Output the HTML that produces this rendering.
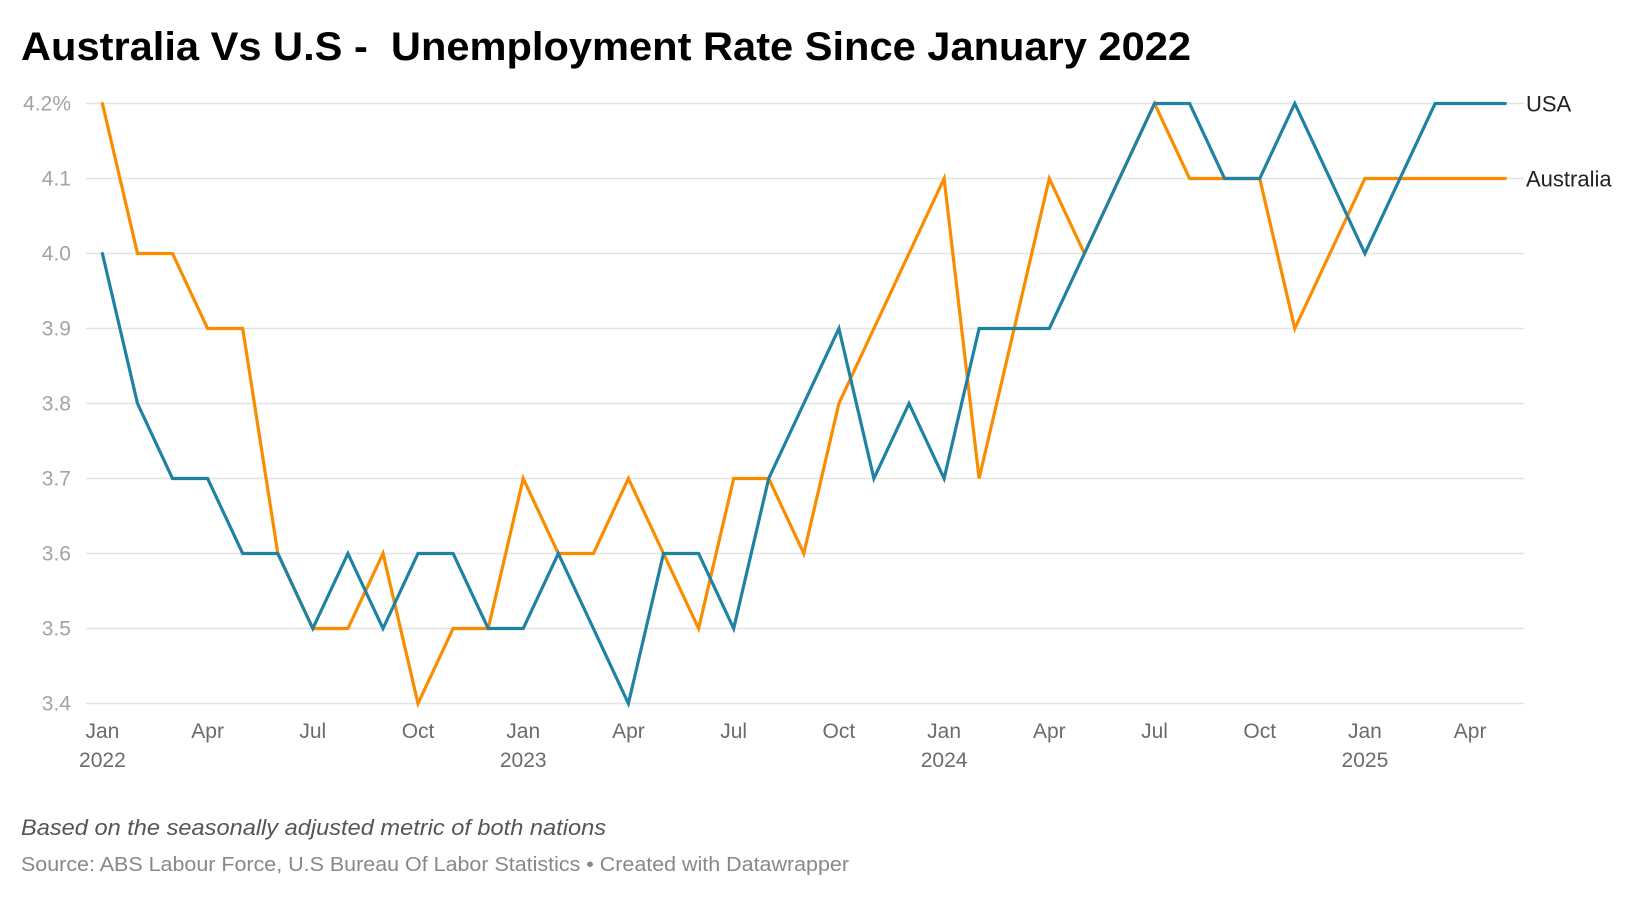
<!DOCTYPE html>
<html><head><meta charset="utf-8"><style>
html,body{margin:0;padding:0;background:#fff;}
svg{display:block;font-family:"Liberation Sans",sans-serif;}
</style></head><body>
<svg id="chart" width="1640" height="898" viewBox="0 0 1640 898" xmlns="http://www.w3.org/2000/svg">
<text x="21" y="60" font-size="40" font-weight="bold" fill="#000" textLength="1170" lengthAdjust="spacingAndGlyphs">Australia Vs U.S - &#160;Unemployment Rate Since January 2022</text>
<g id="grid"></g>
<g id="yaxis"></g>
<g id="xaxis"></g>
<g id="lines"></g>
<text x="21" y="835" font-size="22" font-style="italic" fill="#555" textLength="585" lengthAdjust="spacingAndGlyphs">Based on the seasonally adjusted metric of both nations</text>
<text x="21" y="871" font-size="20" fill="#888" textLength="828" lengthAdjust="spacingAndGlyphs">Source: ABS Labour Force, U.S Bureau Of Labor Statistics • Created with Datawrapper</text>
</svg>
<script>
const australia = [4.2,4.0,4.0,3.9,3.9,3.6,3.5,3.5,3.6,3.4,3.5,3.5,
  3.7,3.6,3.6,3.7,3.6,3.5,3.7,3.7,3.6,3.8,3.9,4.0,
  4.1,3.7,3.9,4.1,4.0,4.1,4.2,4.1,4.1,4.1,3.9,4.0,
  4.1,4.1,4.1,4.1,4.1];
const usa = [4.0,3.8,3.7,3.7,3.6,3.6,3.5,3.6,3.5,3.6,3.6,3.5,
  3.5,3.6,3.5,3.4,3.6,3.6,3.5,3.7,3.8,3.9,3.7,3.8,
  3.7,3.9,3.9,3.9,4.0,4.1,4.2,4.2,4.1,4.1,4.2,4.1,
  4.0,4.1,4.2,4.2,4.2];
const yTicks = [3.4,3.5,3.6,3.7,3.8,3.9,4.0,4.1,4.2];
const yTickLabels = ["3.4","3.5","3.6","3.7","3.8","3.9","4.0","4.1","4.2%"];
const xTickMonths = [0,3,6,9,12,15,18,21,24,27,30,33,36,39];
const xTickLabels = ["Jan","Apr","Jul","Oct","Jan","Apr","Jul","Oct","Jan","Apr","Jul","Oct","Jan","Apr"];
const xYearLabels = ["2022","","","","2023","","","","2024","","","","2025",""];

const NS = "http://www.w3.org/2000/svg";
const x0 = 102.4, monthW = 35.07;
const yTop = 103.5, yMax = 4.2, unitPx = 750;
function xS(i){ return x0 + i*monthW; }
function yS(v){ return yTop + (yMax - v)*unitPx; }
function mk(tag, attrs, parent){ const e=document.createElementNS(NS,tag); for(const k in attrs) e.setAttribute(k,attrs[k]); parent.appendChild(e); return e; }

const grid = document.getElementById('grid');
const yaxis = document.getElementById('yaxis');
yTicks.forEach((t,i)=>{
  const l = mk('line',{x1:86,x2:1524,y1:yS(t),y2:yS(t),stroke:'#e3e3e3','stroke-width':1.5},grid);
  
  
  const tx = mk('text',{x:71,y:yS(t)+7,'text-anchor':'end','font-size':21,fill:'#a3a3a3'},yaxis);
  tx.textContent = yTickLabels[i];
  
  
});
const xaxis = document.getElementById('xaxis');
xTickMonths.forEach((m,i)=>{
  const t = mk('text',{x:xS(m),y:738,'text-anchor':'middle','font-size':21,fill:'#6b6b6b'},xaxis);
  t.textContent = xTickLabels[i];
  
  
  if(xYearLabels[i]){
    const y = mk('text',{x:xS(m),y:767,'text-anchor':'middle','font-size':21,fill:'#6b6b6b'},xaxis);
    y.textContent = xYearLabels[i];
    
    
  }
});
const lines = document.getElementById('lines');
function drawSeries(vals,color,name,label){
  const pts = vals.map((v,i)=>xS(i).toFixed(1)+','+yS(v).toFixed(1)).join(' ');
  const p = mk('polyline',{points:pts,fill:'none',stroke:color,'stroke-width':3.2,'stroke-linejoin':'miter','stroke-linecap':'round'},lines);
  
  
  const last = vals[vals.length-1];
  const t = mk('text',{x:1526,y:yS(last)+8,'font-size':22,fill:'#222'},lines);
  t.textContent = label;
  
  
}
drawSeries(australia,'#fa8c00','australia-line','Australia');
drawSeries(usa,'#1f82a3','usa-line','USA');
</script>
</body></html>
